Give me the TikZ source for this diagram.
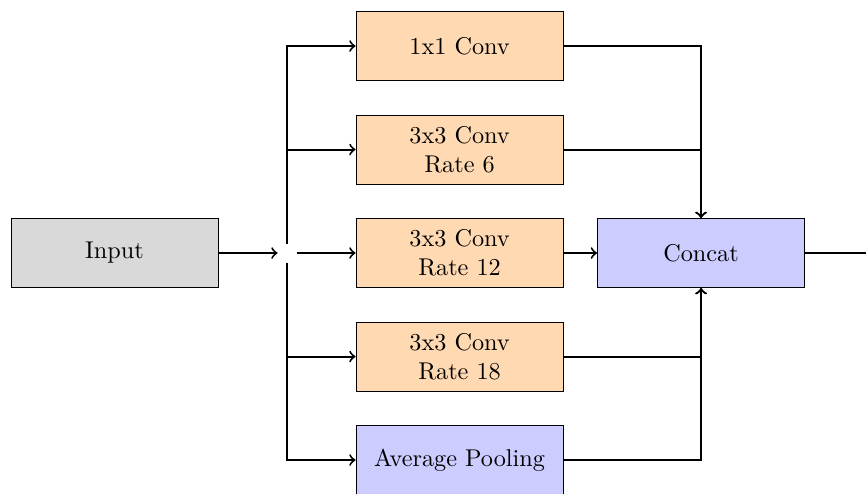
\documentclass[tikz,border=0pt]{standalone}
\usepackage{tikz}
\usetikzlibrary{positioning,calc}
\tikzset{block/.style={draw,minimum width=3cm,minimum height=1cm,align=center,inner sep=2pt},
  conv/.style={block,fill=orange!30},
  pool/.style={block,fill=blue!20},
  link/.style={->,thick}}

\begin{document}
\begin{tikzpicture}
  \useasboundingbox (-1.66,-3.478) rectangle (10.89,3.667);
  \node[block,fill=gray!30] (input) at (0,0) {Input};
  \node[inner sep=0,minimum size=0.26cm] (split) at (2.5,0) {};
  \node[conv] (c1) at (5,3) {1x1 Conv};
  \node[conv] (c2) at (5,1.5) {3x3 Conv\\Rate 6};
  \node[conv] (c3) at (5,0) {3x3 Conv\\Rate 12};
  \node[conv] (c4) at (5,-1.5) {3x3 Conv\\Rate 18};
  \node[pool] (c5) at (5,-3) {Average Pooling};
  \node[pool] (concat) at (8.5,0) {Concat};
  \coordinate (out) at (11.2,0);
  % fan out
  \draw[link] (input) -- (split.west);
  \draw[link] (split.north) |- (c1);
  \draw[link] (split.north) |- (c2);
  \draw[link] (split.east) -- (c3);
  \draw[link] (split.south) |- (c4);
  \draw[link] (split.south) |- (c5);
  % gather
  \draw[link] (c1) -| (concat);
  \draw[link] (c2) -| (concat);
  \draw[link] (c3) -- (concat);
  \draw[link] (c4) -| (concat);
  \draw[link] (c5) -| (concat);
  \draw[thick] (concat) -- (out);
\end{tikzpicture}
\end{document}
